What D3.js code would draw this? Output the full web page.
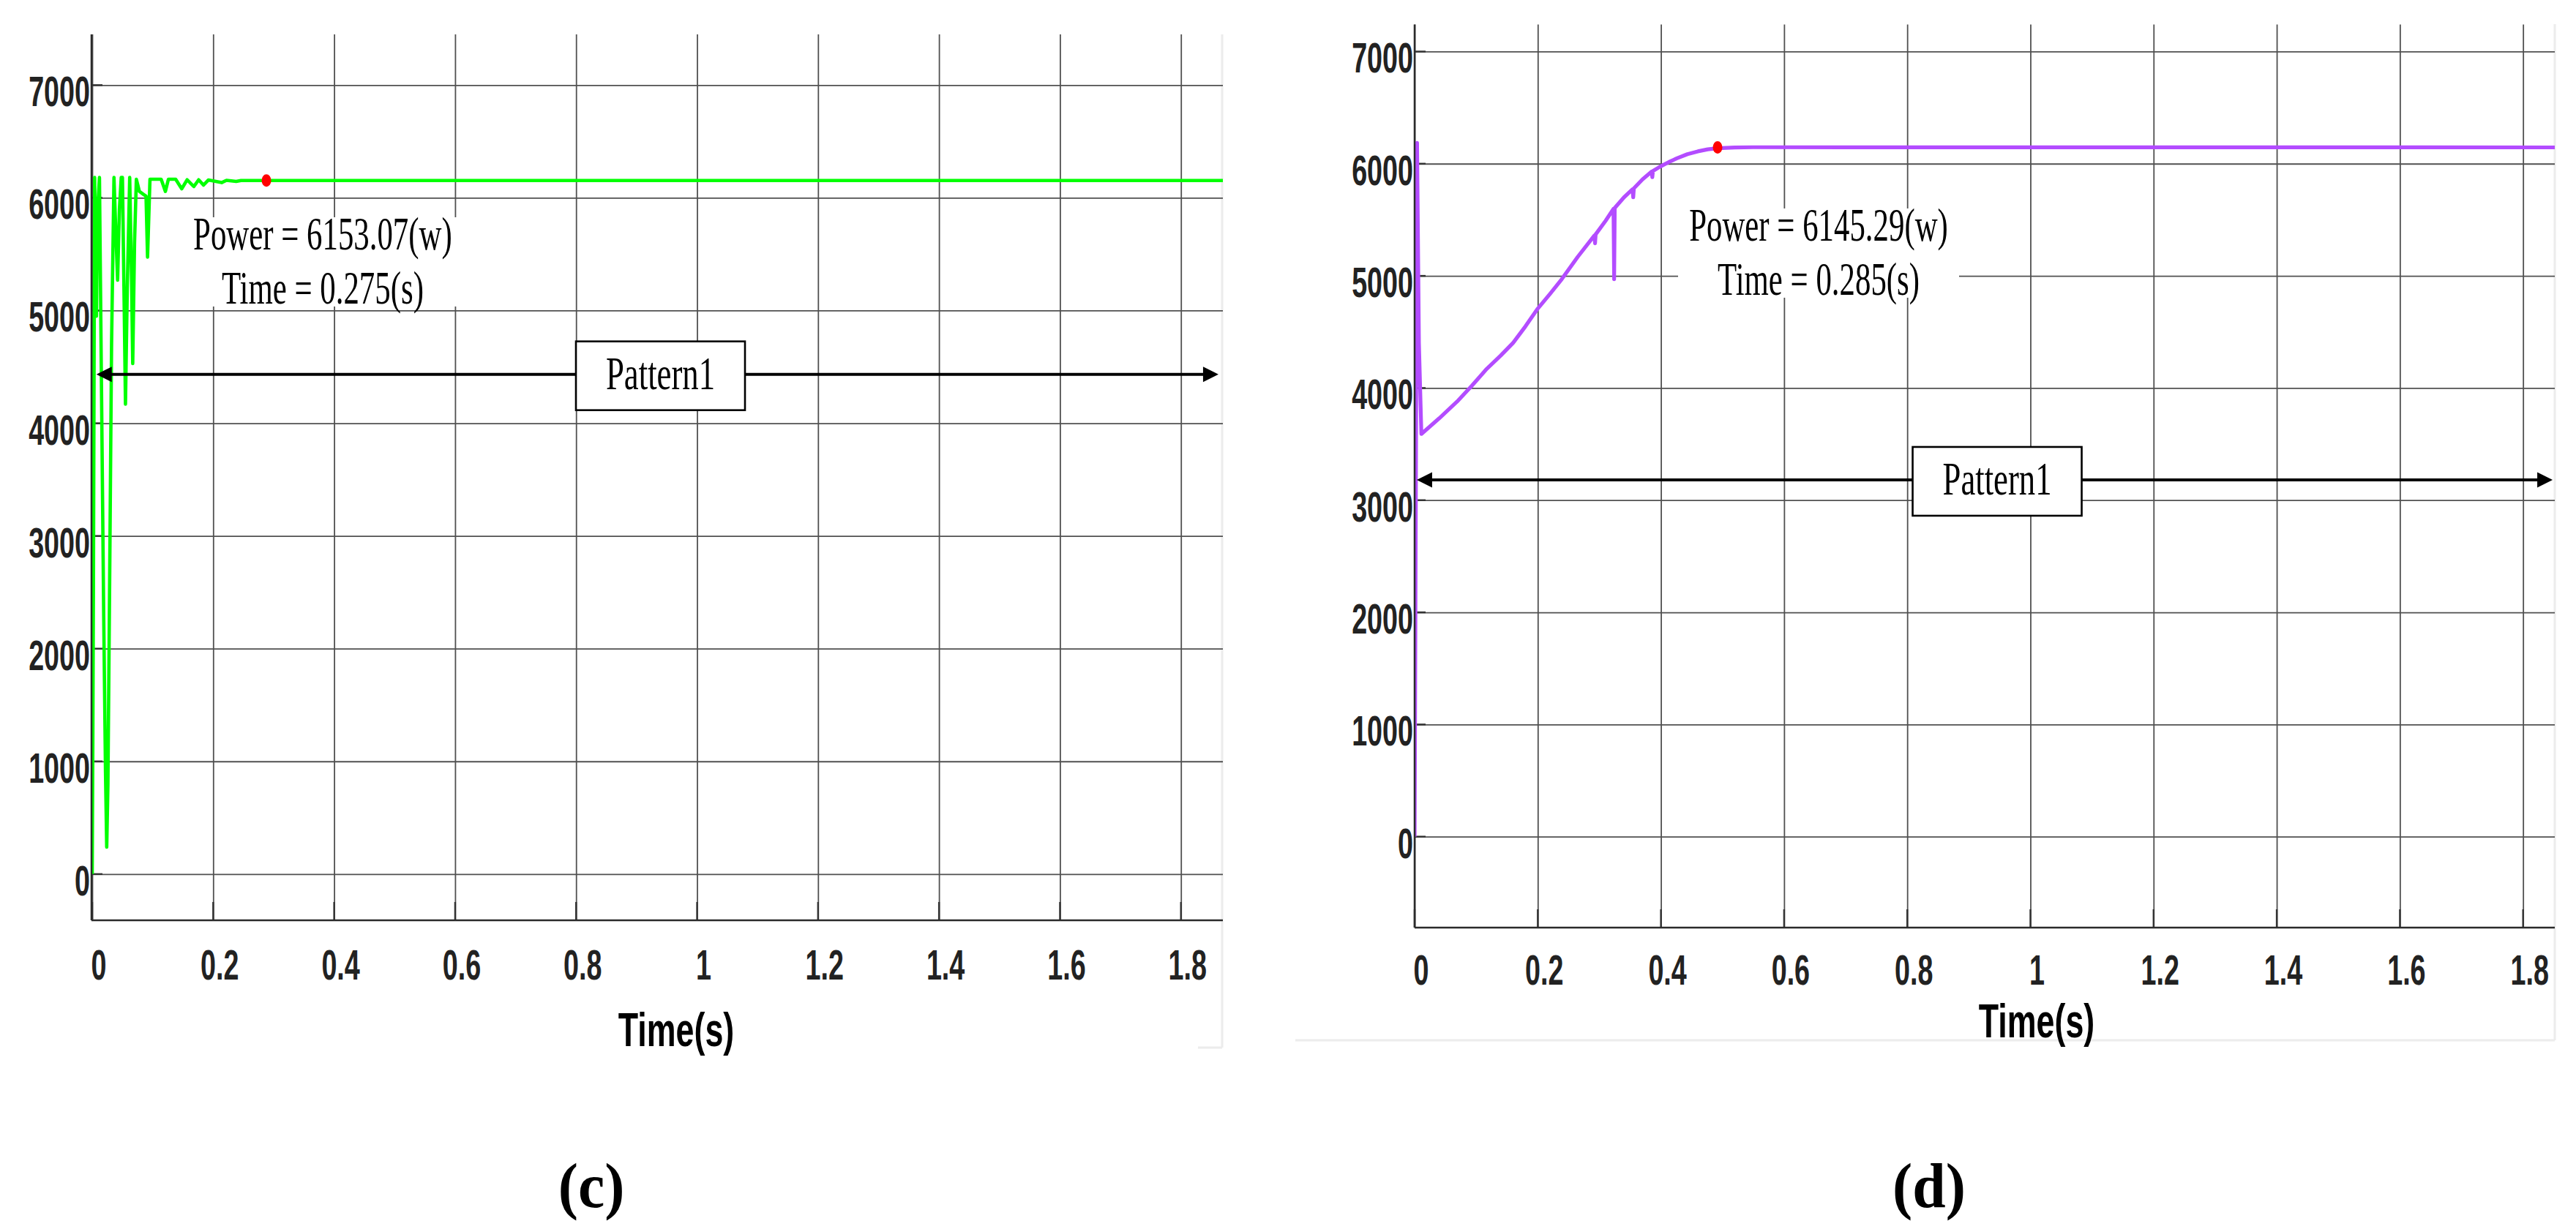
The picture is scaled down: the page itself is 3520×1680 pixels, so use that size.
<!DOCTYPE html>
<html><head><meta charset="utf-8">
<script src="https://cdn.jsdelivr.net/npm/d3@7"></script>
<style>body{margin:0;background:#fff}svg{display:block}</style>
</head><body>
<svg id="chart" width="3520" height="1680"></svg>
<script>
// ---------- data ----------
const xTicks = [0, 0.2, 0.4, 0.6, 0.8, 1, 1.2, 1.4, 1.6, 1.8];
const yTicks = [0, 1000, 2000, 3000, 4000, 5000, 6000, 7000];
const xTitle = "Time(s)";
const patternLabel = "Pattern1";
const panelLabels = ["(c)", "(d)"];

// panel (c): green trace
const greenTime  = [0, 0.001, 0.002, 0.004, 0.006, 0.007, 0.009, 0.012, 0.015, 0.019, 0.022, 0.024, 0.026, 0.029, 0.032, 0.036, 0.039, 0.042, 0.045, 0.048, 0.050, 0.053, 0.055, 0.058, 0.062, 0.065, 0.067, 0.070, 0.073, 0.078, 0.085, 0.089, 0.0915, 0.0955, 0.114, 0.121, 0.126, 0.138, 0.148, 0.157, 0.168, 0.176, 0.184, 0.192, 0.214, 0.222, 0.238, 0.246, 1.87];
const greenPower = [0, 1150, 2500, 6180, 5400, 4950, 5900, 6180, 4500, 2300, 900, 240, 800, 2700, 4700, 6180, 5700, 5270, 5900, 6180, 6180, 5000, 4170, 5200, 6180, 5300, 4530, 5600, 6165, 6057, 6030, 6015, 5474, 6165, 6165, 6057, 6165, 6165, 6080, 6160, 6100, 6160, 6113, 6158, 6135, 6155, 6145, 6153.07, 6153.07];

// panel (d): purple trace
const purpleTime  = [0, 0.002, 0.004, 0.007, 0.011, 0.040, 0.069, 0.093, 0.117, 0.140, 0.160, 0.180, 0.200, 0.220, 0.239, 0.265, 0.292, 0.293, 0.294, 0.310, 0.323, 0.324, 0.325, 0.340, 0.354, 0.355, 0.356, 0.370, 0.385, 0.386, 0.387, 0.399, 0.413, 0.426, 0.443, 0.460, 0.476, 0.492, 0.520, 0.550, 0.700, 1.86];
const purplePower = [0, 3000, 6185, 4400, 3590, 3730, 3879, 4020, 4170, 4290, 4403, 4550, 4708, 4840, 4971, 5170, 5360, 5290, 5370, 5490, 5597, 4971, 5605, 5700, 5772, 5700, 5780, 5860, 5930, 5880, 5935, 5975, 6015, 6048, 6085, 6110, 6128, 6138, 6145, 6147, 6146, 6145.29];

const notesC = ["Power = 6153.07(w)", "Time = 0.275(s)"];
const notesD = ["Power = 6145.29(w)", "Time = 0.285(s)"];
const markerC = [0.288, 6153.07];
const markerD = [0.492, 6145.29];
const arrowC = [0.007, 1.862, 4434];   // start time, end time, power level
const arrowD = [0.0035, 1.848, 3181];
const patternCenterC = 0.9395;
const patternCenterD = 0.946;
const noteAnchorC = [0.381, 5542];
const noteAnchorD = [0.656, 5314];

// ---------- layout ----------
const panels = [
  { left: 125, right: 1671, top: 47, bottom: 1258, xDomain: [-0.0012, 1.8693], yDomain: [-410, 7450],
    time: greenTime, power: greenPower, color: "#00ff00", width: 4.6,
    marker: markerC, notes: notesC, noteAnchor: noteAnchorC, arrow: arrowC, patternT: patternCenterC,
    titleDx: 26, titleBase: 1430, label: panelLabels[0], labelX: 808, tickBase: 1339,
    border: [[1670, 47, 1670, 1432], [1637, 1432, 1670, 1432]] },
  { left: 1933, right: 3491, top: 33.5, bottom: 1268, xDomain: [0, 1.8515], yDomain: [-811, 7241],
    time: purpleTime, power: purplePower, color: "#b34cff", width: 5.2,
    marker: markerD, notes: notesD, noteAnchor: noteAnchorD, arrow: arrowD, patternT: patternCenterD,
    titleDx: 71, titleBase: 1418, label: panelLabels[1], labelX: 2636, tickBase: 1346,
    border: [[3491, 33, 3491, 1422], [1770, 1422, 3491, 1422]] }
];

const svg = d3.select("#chart");
svg.append("rect").attr("width", 3520).attr("height", 1680).attr("fill", "#fff");

function squishText(parent, x, y, txt, opts) {
  const g = parent.append("g").attr("transform", `translate(${x},${y}) scale(${opts.sx},1)`);
  g.append("text").attr("x", 0).attr("y", 0)
    .attr("text-anchor", opts.anchor || "middle")
    .attr("font-family", opts.family)
    .attr("font-weight", opts.weight || "normal")
    .attr("font-size", opts.size)
    .attr("fill", opts.fill || "#000")
    .text(txt);
  return g;
}

panels.forEach((p, i) => {
  const g = svg.append("g");
  const x = d3.scaleLinear().domain(p.xDomain).range([p.left, p.right]);
  const y = d3.scaleLinear().domain(p.yDomain).range([p.bottom, p.top]);

  // faint image border
  p.border.forEach(b => g.append("line").attr("x1", b[0]).attr("y1", b[1]).attr("x2", b[2]).attr("y2", b[3])
    .attr("stroke", "#ececec").attr("stroke-width", 3));

  // grid via axes
  const gx = g.append("g").attr("transform", `translate(0,${p.bottom})`)
    .call(d3.axisBottom(x).tickValues(xTicks).tickSize(-(p.bottom - p.top)).tickFormat(""));
  gx.select(".domain").remove();
  gx.selectAll("line").attr("stroke", "#505050").attr("stroke-width", 1.8);
  const gy = g.append("g").attr("transform", `translate(${p.left},0)`)
    .call(d3.axisLeft(y).tickValues(yTicks).tickSize(-(p.right - p.left)).tickFormat(""));
  gy.select(".domain").remove();
  gy.selectAll("line").attr("stroke", "#505050").attr("stroke-width", 1.8);

  // short inner tick marks (darker)
  g.append("g").selectAll("line").data(yTicks).join("line")
    .attr("x1", p.left).attr("x2", p.left + 15).attr("y1", d => y(d)).attr("y2", d => y(d))
    .attr("stroke", "#333").attr("stroke-width", 2.4);
  g.append("g").selectAll("line").data(xTicks).join("line")
    .attr("x1", d => x(d)).attr("x2", d => x(d)).attr("y1", p.bottom).attr("y2", p.bottom - 25)
    .attr("stroke", "#333").attr("stroke-width", 2.4);

  // white box behind annotation
  const ax = x(p.noteAnchor[0]), ay = y(p.noteAnchor[1]);
  g.append("rect").attr("x", ax - 192).attr("y", ay - 44).attr("width", 384).attr("height", 122).attr("fill", "#fff");

  // trace
  const clipId = "clip" + i;
  svg.append("clipPath").attr("id", clipId).append("rect")
    .attr("x", p.left).attr("y", p.top).attr("width", p.right - p.left).attr("height", p.bottom - p.top);
  const pts = p.time.map((t, k) => [t, p.power[k]]);
  g.append("path").datum(pts)
    .attr("clip-path", `url(#${clipId})`)
    .attr("d", d3.line().x(d => x(d[0])).y(d => y(d[1])))
    .attr("fill", "none").attr("stroke", p.color).attr("stroke-width", p.width)
    .attr("stroke-linejoin", "round");

  // arrow
  const a0 = x(p.arrow[0]), a1 = x(p.arrow[1]), ayl = y(p.arrow[2]);
  g.append("line").attr("x1", a0 + 18).attr("x2", a1 - 18).attr("y1", ayl).attr("y2", ayl)
    .attr("stroke", "#000").attr("stroke-width", 4);
  g.append("path").attr("d", `M${a0},${ayl} L${a0 + 21},${ayl - 10.5} L${a0 + 21},${ayl + 10.5} Z`).attr("fill", "#000");
  g.append("path").attr("d", `M${a1},${ayl} L${a1 - 21},${ayl - 10.5} L${a1 - 21},${ayl + 10.5} Z`).attr("fill", "#000");

  // Pattern box
  const pc = x(p.patternT);
  g.append("rect").attr("x", pc - 115.5).attr("y", ayl + 2 - 47).attr("width", 231).attr("height", 94)
    .attr("fill", "#fff").attr("stroke", "#000").attr("stroke-width", 2.6);
  squishText(g, pc, ayl + 20, patternLabel, { sx: 0.71, family: "'Liberation Serif', 'Times New Roman', serif", size: 63 });

  // marker
  g.append("ellipse").attr("cx", x(p.marker[0])).attr("cy", y(p.marker[1])).attr("rx", 6.5).attr("ry", 8.5).attr("fill", "#ff0000");

  // annotation text
  p.notes.forEach((n, k) => squishText(g, ax, ay + k * 74, n,
    { sx: 0.68, family: "'Liberation Serif', 'Times New Roman', serif", size: 63 }));

  // axes lines
  g.append("line").attr("x1", p.left).attr("x2", p.left).attr("y1", p.top).attr("y2", p.bottom)
    .attr("stroke", "#2b2b2b").attr("stroke-width", 2.5);
  g.append("line").attr("x1", p.left).attr("x2", p.right).attr("y1", p.bottom).attr("y2", p.bottom)
    .attr("stroke", "#2b2b2b").attr("stroke-width", 2.5);

  // tick labels
  const sansB = { sx: 0.65, family: "'Liberation Sans', Arial, sans-serif", weight: "bold", size: 58, fill: "#222" };
  yTicks.forEach(v => squishText(g, p.left - 2, y(v) + 29, d3.format("d")(v), Object.assign({}, sansB, { anchor: "end" })));
  xTicks.forEach(t => squishText(g, x(t) + 9, p.tickBase, String(t), sansB));

  // x title
  squishText(g, (p.left + p.right) / 2 + p.titleDx, p.titleBase, xTitle,
    { sx: 0.70, family: "'Liberation Sans', Arial, sans-serif", weight: "bold", size: 64, fill: "#000" });

  // panel label
  squishText(g, p.labelX, 1650, p.label,
    { sx: 0.95, family: "'Liberation Serif', 'Times New Roman', serif", weight: "bold", size: 86, fill: "#000" });
});
</script>
</body></html>
